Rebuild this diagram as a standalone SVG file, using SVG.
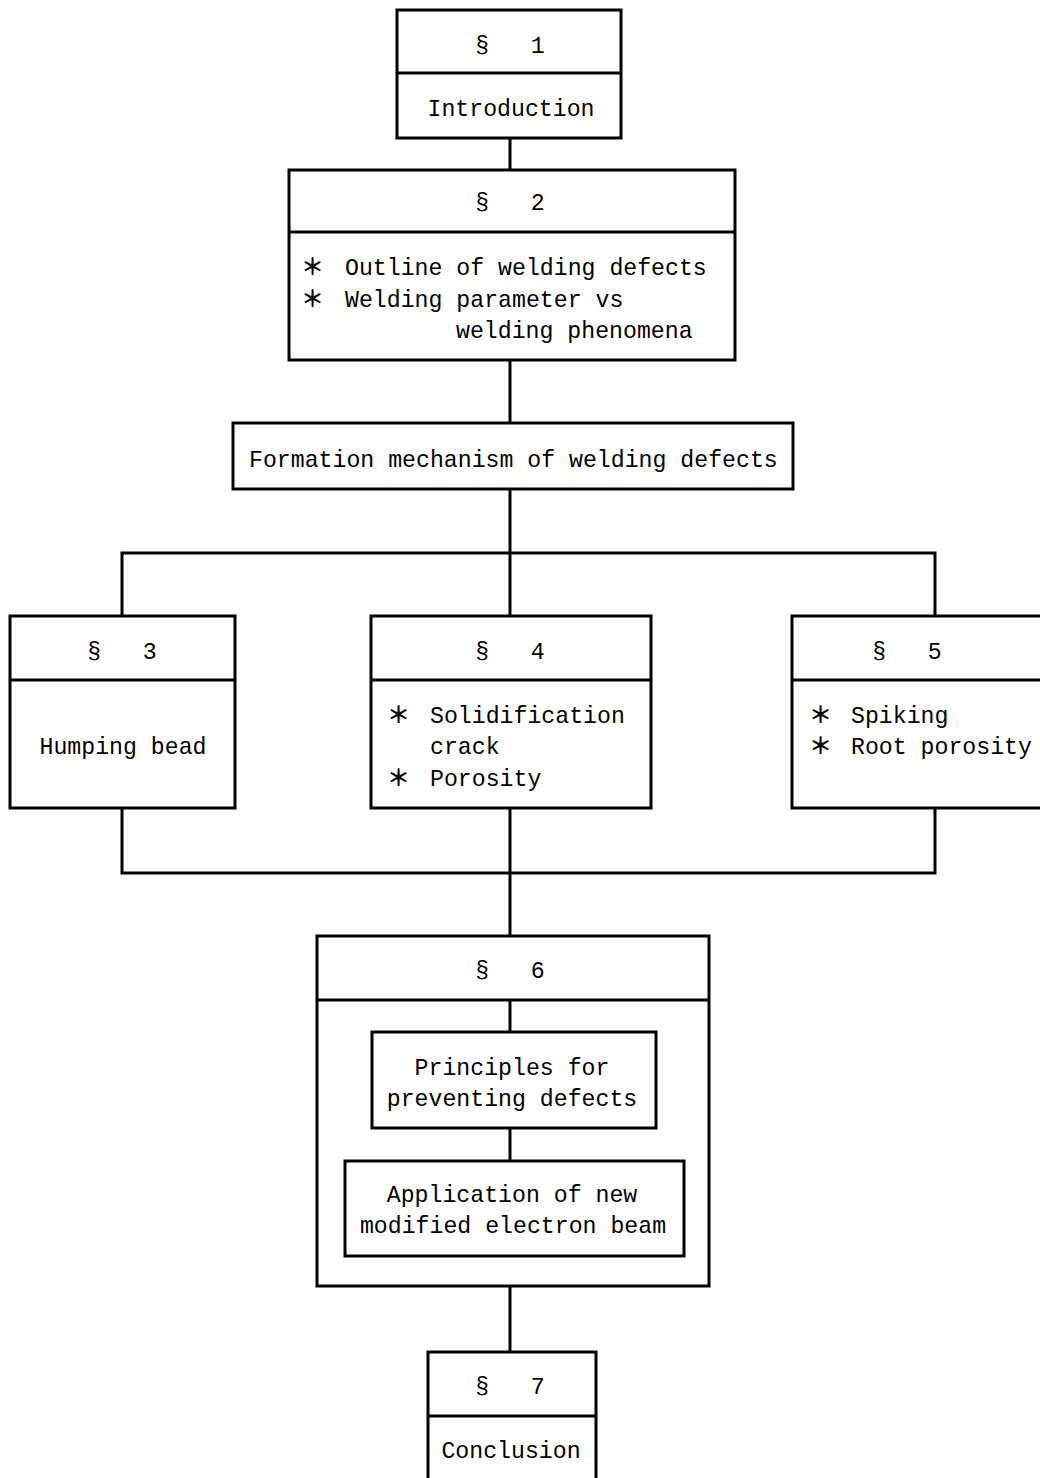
<svg xmlns="http://www.w3.org/2000/svg" width="1040" height="1478" viewBox="0 0 1040 1478">
<style>
.box{fill:#fff;stroke:#000;stroke-width:3}
.div{stroke:#000;stroke-width:3}
.con{stroke:#000;stroke-width:3;fill:none}
text{font-family:"Liberation Mono","DejaVu Sans Mono",monospace;font-size:23.2px;fill:#000}
.c{text-anchor:middle}
.ast{font-family:"Noto Sans CJK JP","DejaVu Sans",sans-serif;font-size:23px;font-weight:bold}
</style>
<rect width="1040" height="1478" fill="#fff"/>
<g id="connectors">
<line class="con" x1="510" y1="138" x2="510" y2="170"/>
<line class="con" x1="510" y1="360" x2="510" y2="423"/>
<line class="con" x1="510" y1="489" x2="510" y2="616"/>
<polyline class="con" points="122,616 122,553 935,553 935,616"/>
<polyline class="con" points="122,808 122,873 935,873 935,808"/>
<line class="con" x1="510" y1="808" x2="510" y2="936"/>
<line class="con" x1="510" y1="1286" x2="510" y2="1352"/>
</g>
<g id="s1">
<rect class="box" x="397" y="10" width="224" height="128"/>
<line class="div" x1="397" y1="73" x2="621" y2="73"/>
<text class="c" x="510" y="53" xml:space="preserve">§   1</text>
<text class="c" x="511" y="116">Introduction</text>
</g>
<g id="s2">
<rect class="box" x="289" y="170" width="446" height="190"/>
<line class="div" x1="289" y1="232" x2="735" y2="232"/>
<text class="c" x="510" y="210" xml:space="preserve">§   2</text>
<text y="275"><tspan class="ast" x="301">＊</tspan><tspan x="345">Outline of welding defects</tspan></text>
<text y="307"><tspan class="ast" x="301">＊</tspan><tspan x="345">Welding parameter vs</tspan></text>
<text x="456" y="338">welding phenomena</text>
</g>
<g id="formation">
<rect class="box" x="233" y="423" width="560" height="66"/>
<text x="249" y="467">Formation mechanism of welding defects</text>
</g>
<g id="s3">
<rect class="box" x="10" y="616" width="225" height="192"/>
<line class="div" x1="10" y1="680" x2="235" y2="680"/>
<text class="c" x="122" y="659" xml:space="preserve">§   3</text>
<text class="c" x="123" y="754">Humping bead</text>
</g>
<g id="s4">
<rect class="box" x="371" y="616" width="280" height="192"/>
<line class="div" x1="371" y1="680" x2="651" y2="680"/>
<text class="c" x="510" y="659" xml:space="preserve">§   4</text>
<text y="723"><tspan class="ast" x="387">＊</tspan><tspan x="430">Solidification</tspan></text>
<text x="430" y="754">crack</text>
<text y="786"><tspan class="ast" x="387">＊</tspan><tspan x="430">Porosity</tspan></text>
</g>
<g id="s5">
<rect class="box" x="792" y="616" width="262" height="192"/>
<line class="div" x1="792" y1="680" x2="1054" y2="680"/>
<text class="c" x="907" y="659" xml:space="preserve">§   5</text>
<text y="723"><tspan class="ast" x="809">＊</tspan><tspan x="851">Spiking</tspan></text>
<text y="754"><tspan class="ast" x="809">＊</tspan><tspan x="851">Root porosity</tspan></text>
</g>
<g id="s6">
<rect class="box" x="317" y="936" width="392" height="350"/>
<line class="div" x1="317" y1="1000" x2="709" y2="1000"/>
<text class="c" x="510" y="978" xml:space="preserve">§   6</text>
<line class="con" x1="510" y1="1000" x2="510" y2="1032"/>
<line class="con" x1="510" y1="1128" x2="510" y2="1161"/>
<g id="s6-principles">
<rect class="box" x="372" y="1032" width="284" height="96"/>
<text class="c" x="512" y="1075">Principles for</text>
<text class="c" x="512" y="1106">preventing defects</text>
</g>
<g id="s6-application">
<rect class="box" x="345" y="1161" width="339" height="95"/>
<text class="c" x="512" y="1202">Application of new</text>
<text class="c" x="513" y="1233">modified electron beam</text>
</g>
</g>
<g id="s7">
<rect class="box" x="428" y="1352" width="168" height="140"/>
<line class="div" x1="428" y1="1416" x2="596" y2="1416"/>
<text class="c" x="510" y="1394" xml:space="preserve">§   7</text>
<text class="c" x="511" y="1458">Conclusion</text>
</g>
</svg>
